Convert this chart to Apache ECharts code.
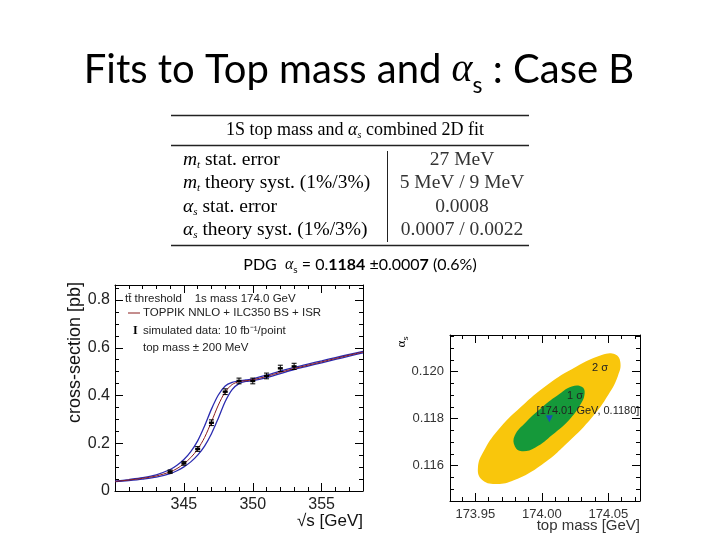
<!DOCTYPE html>
<html><head><meta charset="utf-8">
<script src="https://cdn.jsdelivr.net/npm/echarts@6/dist/echarts.min.js"></script>
<style>html,body{margin:0;padding:0;background:#fff}#c{width:720px;height:540px}</style>
</head><body><div id="c"></div>
<script>
// ---------- data: left plot (threshold scan) ----------
const curveX = [340, 341, 342, 343, 344, 344.5, 345, 345.5, 346, 346.5, 347, 347.5, 348, 348.5, 349, 349.5, 350, 351, 352, 353, 354, 355, 356, 357, 358];
const curveCentral = [0.040, 0.046, 0.053, 0.063, 0.080, 0.094, 0.114, 0.140, 0.175, 0.224, 0.290, 0.360, 0.415, 0.446, 0.458, 0.462, 0.466, 0.480, 0.497, 0.513, 0.527, 0.541, 0.555, 0.569, 0.582];
const curveMinus = [0.041, 0.048, 0.056, 0.068, 0.090, 0.108, 0.132, 0.165, 0.210, 0.272, 0.343, 0.402, 0.440, 0.455, 0.461, 0.465, 0.470, 0.485, 0.502, 0.518, 0.532, 0.545, 0.559, 0.572, 0.585];
const curvePlus = [0.039, 0.044, 0.050, 0.058, 0.073, 0.085, 0.101, 0.122, 0.150, 0.188, 0.240, 0.305, 0.375, 0.425, 0.450, 0.459, 0.462, 0.475, 0.492, 0.509, 0.523, 0.537, 0.551, 0.565, 0.579];
const dataX = [344, 345, 346, 347, 348, 349, 350, 351, 352, 353];
const dataY = [0.081, 0.116, 0.176, 0.286, 0.416, 0.461, 0.461, 0.482, 0.514, 0.522];
const dataErr = [0.007, 0.008, 0.010, 0.012, 0.012, 0.012, 0.012, 0.012, 0.013, 0.013];
const leftXLabels = [345, 350, 355];
const leftXMinor = [341, 342, 343, 344, 346, 347, 348, 349, 351, 352, 353, 354, 356, 357];
const leftYLabels = [0, 0.2, 0.4, 0.6, 0.8];
const leftYMinor = [0.05, 0.1, 0.15, 0.25, 0.3, 0.35, 0.45, 0.5, 0.55, 0.65, 0.7, 0.75, 0.85];

// ---------- data: right plot (2D fit contours) ----------
const sigma2X = [174.045, 174.055, 174.0590, 174.0572, 174.0500, 174.0378, 174.0205, 174.0000, 173.9790, 173.9650, 173.9548, 173.9520, 173.9562, 173.9668, 173.9842, 174.0045, 174.0255];
const sigma2Y = [0.12071, 0.12074, 0.12041, 0.11982, 0.11902, 0.11806, 0.11704, 0.11604, 0.11538, 0.11522, 0.11541, 0.11592, 0.11660, 0.11750, 0.11850, 0.11946, 0.12020];
const sigma1X = [174.0225, 174.030, 174.0322, 174.0290, 174.0205, 174.0080, 173.9952, 173.9850, 173.9798, 173.9796, 173.9882, 174.0005, 174.0132];
const sigma1Y = [0.11937, 0.11936, 0.11909, 0.11860, 0.11795, 0.11732, 0.11678, 0.11662, 0.11682, 0.11727, 0.11786, 0.11850, 0.11905];
const bestFit = [174.0057, 0.1180];
const rightXLabels = [173.95, 174.00, 174.05];
const rightXMinor = [173.94, 173.96, 173.97, 173.98, 173.99, 174.01, 174.02, 174.03, 174.04, 174.06, 174.07];
const rightYLabels = [0.116, 0.118, 0.120];
const rightYMinor = [0.115, 0.1155, 0.1165, 0.117, 0.1175, 0.1185, 0.119, 0.1195, 0.1205, 0.121, 0.1215];

const SANS = 'Liberation Sans, Arial, sans-serif';
const SERIF = 'Liberation Serif, Times New Roman, serif';
const CAL = 'Lato, Open Sans, sans-serif';

function axisSet(kind, grid, min, max, labels, minor, labelOpt, majorLen, minorLen, fmt) {
  const pos = kind === 'x' ? ['bottom', 'top'] : ['left', 'right'];
  const out = [];
  pos.forEach((p, pi) => {
    [true, false].forEach(major => {
      out.push({
        type: 'value', gridIndex: grid, position: p, min: min, max: max,
        axisLine: { show: major, onZero: false, lineStyle: { color: '#000', width: 1 } },
        axisTick: { show: true, inside: true, length: major ? majorLen : minorLen, customValues: major ? labels : minor, lineStyle: { color: '#000', width: 1 } },
        axisLabel: Object.assign({ show: major && pi === 0, customValues: labels, formatter: fmt }, labelOpt),
        splitLine: { show: false }
      });
    });
  });
  return out;
}

const xAxes = [].concat(
  axisSet('x', 0, 340, 358, leftXLabels, leftXMinor, { fontSize: 16, color: '#222', fontFamily: SANS, margin: 6 }, 8, 4, v => String(v)),
  axisSet('x', 1, 173.931, 174.0738, rightXLabels, rightXMinor, { fontSize: 13, color: '#333', fontFamily: SANS, margin: 7 }, 8, 4, v => v.toFixed(2))
);
const yAxes = [].concat(
  axisSet('y', 0, 0, 0.863, leftYLabels, leftYMinor, { fontSize: 16, color: '#222', fontFamily: SANS, margin: 5 }, 8, 4, v => v === 0 ? '0' : String(v)),
  axisSet('y', 1, 0.1145, 0.12156, rightYLabels, rightYMinor, { fontSize: 13, color: '#333', fontFamily: SANS, margin: 6 }, 8, 4, v => v.toFixed(3))
);

function lineSeries(ys, color, width) {
  return {
    type: 'line', xAxisIndex: 0, yAxisIndex: 0, data: curveX.map((x, i) => [x, ys[i]]),
    smooth: 0.3, showSymbol: false, symbol: 'none', silent: true,
    lineStyle: { color: color, width: width }, z: 3
  };
}

function polySeries(xs, ys, color, z) {
  return {
    type: 'custom', xAxisIndex: 4, yAxisIndex: 4, data: [[xs[0], ys[0]]], silent: true, z: z,
    renderItem: function (params, api) {
      const pts = xs.map((x, i) => api.coord([x, ys[i]]));
      return { type: 'polygon', shape: { points: pts, smooth: 0.45 }, style: { fill: color, stroke: null } };
    }
  };
}

const rowRich = {
  a: { fontFamily: SERIF, fontSize: 19.5, color: '#333', lineHeight: 22 },
  i: { fontFamily: SERIF, fontStyle: 'italic', fontSize: 19.5, color: '#333', lineHeight: 22 },
  b: { fontFamily: SERIF, fontStyle: 'italic', fontSize: 11, color: '#333', lineHeight: 11, verticalAlign: 'bottom' }
};

const option = {
  animation: false,
  grid: [
    { left: 115, top: 285, width: 248, height: 206 },
    { left: 450, top: 335, width: 190, height: 166 }
  ],
  xAxis: xAxes,
  yAxis: yAxes,
  series: [
    lineSeries(curveMinus, '#2b2bb0', 1.3),
    lineSeries(curvePlus, '#2b2bb0', 1.3),
    lineSeries(curveCentral, '#8a1c1c', 1),
    {
      type: 'custom', xAxisIndex: 0, yAxisIndex: 0, z: 5, silent: true,
      data: dataX.map((x, i) => [x, dataY[i], dataErr[i]]),
      renderItem: function (params, api) {
        const x = api.value(0), y = api.value(1), e = api.value(2);
        const lo = api.coord([x, y - e]), hi = api.coord([x, y + e]), c = api.coord([x, y]);
        const s = { stroke: '#000', lineWidth: 1 };
        return { type: 'group', children: [
          { type: 'line', shape: { x1: lo[0], y1: lo[1], x2: hi[0], y2: hi[1] }, style: s },
          { type: 'line', shape: { x1: lo[0] - 2.5, y1: lo[1], x2: lo[0] + 2.5, y2: lo[1] }, style: s },
          { type: 'line', shape: { x1: hi[0] - 2.5, y1: hi[1], x2: hi[0] + 2.5, y2: hi[1] }, style: s },
          { type: 'rect', shape: { x: c[0] - 2.5, y: c[1] - 1.2, width: 5, height: 2.4 }, style: { fill: '#000' } }
        ] };
      }
    },
    polySeries(sigma2X, sigma2Y, '#f9c60c', 2),
    polySeries(sigma1X, sigma1Y, '#15993a', 3),
    {
      type: 'scatter', xAxisIndex: 4, yAxisIndex: 4, data: [bestFit], symbol: 'triangle', symbolRotate: 180,
      symbolSize: 7, itemStyle: { color: '#1a3fd0' }, z: 6, silent: true
    }
  ],
  graphic: [
    // Title
    { type: 'text', x: 359, y: 70, style: {
      text: '{a|Fits to Top mass and }{g|α}{s|s}{a| : Case B}', align: 'center', verticalAlign: 'middle',
      rich: {
        a: { fontFamily: CAL, fontSize: 40, color: '#000', lineHeight: 54 },
        g: { fontFamily: SERIF, fontStyle: 'italic', fontSize: 40, color: '#000', lineHeight: 54 },
        s: { fontFamily: CAL, fontSize: 23, color: '#000', lineHeight: 23, verticalAlign: 'bottom' }
      } } },
    // Table lines
    { type: 'line', shape: { x1: 171, y1: 115.5, x2: 529, y2: 115.5 }, style: { stroke: '#222', lineWidth: 1.3 } },
    { type: 'line', shape: { x1: 171, y1: 145.5, x2: 529, y2: 145.5 }, style: { stroke: '#222', lineWidth: 1.3 } },
    { type: 'line', shape: { x1: 171, y1: 245.5, x2: 529, y2: 245.5 }, style: { stroke: '#222', lineWidth: 1.3 } },
    { type: 'line', shape: { x1: 387.5, y1: 151, x2: 387.5, y2: 242 }, style: { stroke: '#222', lineWidth: 1 } },
    { type: 'text', x: 355, y: 130, style: { text: '{a|1S top mass and }{i|α}{b|s}{a| combined 2D fit}', align: 'center', verticalAlign: 'middle',
      rich: { a: { fontFamily: SERIF, fontSize: 18, color: '#333', lineHeight: 20 }, i: { fontFamily: SERIF, fontStyle: 'italic', fontSize: 18, color: '#333', lineHeight: 20 }, b: { fontFamily: SERIF, fontStyle: 'italic', fontSize: 10, color: '#333', lineHeight: 10, verticalAlign: 'bottom' } } } },
    ...[
      ['m', 't', ' stat. error', '27 MeV', 160],
      ['m', 't', ' theory syst. (1%/3%)', '5 MeV / 9 MeV', 183],
      ['α', 's', ' stat. error', '0.0008', 207],
      ['α', 's', ' theory syst. (1%/3%)', '0.0007 / 0.0022', 230]
    ].flatMap(r => [
      { type: 'text', x: 183, y: r[4], style: { text: '{i|' + r[0] + '}{b|' + r[1] + '}{a|' + r[2] + '}', align: 'left', verticalAlign: 'middle', rich: rowRich } },
      { type: 'text', x: 462, y: r[4], style: { text: r[3], align: 'center', verticalAlign: 'middle', fontFamily: SERIF, fontSize: 19.5, fill: '#333' } }
    ]),
    // PDG line
    { type: 'text', x: 360, y: 265, style: { text: '{a|PDG  }{g|α}{s|s}{a| = 0.}{b|1184}{a| ±0.000}{b|7}{a| (0.6%)}', align: 'center', verticalAlign: 'middle',
      rich: { a: { fontFamily: CAL, fontSize: 16, color: '#000', lineHeight: 20 }, b: { fontFamily: CAL, fontWeight: 'bold', fontSize: 16, color: '#000', lineHeight: 20 },
        g: { fontFamily: SERIF, fontStyle: 'italic', fontSize: 16, color: '#000', lineHeight: 20 }, s: { fontFamily: CAL, fontSize: 10, color: '#000', lineHeight: 10, verticalAlign: 'bottom' } } } },
    // left plot axis titles
    { type: 'text', x: 75, y: 282, rotation: Math.PI / 2, style: { text: 'cross-section [pb]', align: 'right', verticalAlign: 'middle', fontFamily: SANS, fontSize: 18, fill: '#111' } },
    { type: 'text', x: 363, y: 521, style: { text: '√s [GeV]', align: 'right', verticalAlign: 'middle', fontFamily: SANS, fontSize: 17, fill: '#111' } },
    // left plot legend
    { type: 'text', x: 125, y: 299, style: { text: 'tt̄ threshold    1s mass 174.0 GeV', align: 'left', verticalAlign: 'middle', fontFamily: SANS, fontSize: 11.5, fill: '#222' } },
    { type: 'line', shape: { x1: 128, y1: 313, x2: 140, y2: 313 }, style: { stroke: '#8a1c1c', lineWidth: 1 } },
    { type: 'text', x: 143, y: 313, style: { text: 'TOPPIK NNLO + ILC350 BS + ISR', align: 'left', verticalAlign: 'middle', fontFamily: SANS, fontSize: 11.5, fill: '#222' } },
    { type: 'text', x: 133, y: 331, style: { text: 'I', align: 'left', verticalAlign: 'middle', fontFamily: SERIF, fontWeight: 'bold', fontSize: 12, fill: '#000' } },
    { type: 'text', x: 143, y: 331, style: { text: 'simulated data: 10 fb⁻¹/point', align: 'left', verticalAlign: 'middle', fontFamily: SANS, fontSize: 11.5, fill: '#222' } },
    { type: 'text', x: 143, y: 348, style: { text: 'top mass ± 200 MeV', align: 'left', verticalAlign: 'middle', fontFamily: SANS, fontSize: 11.5, fill: '#222' } },
    // right plot texts
    { type: 'text', x: 402, y: 342, rotation: Math.PI / 2, style: { text: '{g|α}{s|s}', align: 'center', verticalAlign: 'middle',
      rich: { g: { fontFamily: SERIF, fontSize: 13, color: '#333', lineHeight: 16 }, s: { fontFamily: SANS, fontSize: 8, color: '#333', lineHeight: 8, verticalAlign: 'bottom' } } } },
    { type: 'text', x: 640, y: 526, style: { text: 'top mass [GeV]', align: 'right', verticalAlign: 'middle', fontFamily: SANS, fontSize: 15, fill: '#333' } },
    { type: 'text', x: 600, y: 368, z: 10, style: { text: '2 σ', align: 'center', verticalAlign: 'middle', fontFamily: SANS, fontSize: 11, fill: '#222' } },
    { type: 'text', x: 575, y: 396, z: 10, style: { text: '1 σ', align: 'center', verticalAlign: 'middle', fontFamily: SANS, fontSize: 11, fill: '#222' } },
    { type: 'text', x: 588, y: 411, z: 10, style: { text: '[174.01 GeV, 0.1180]', align: 'center', verticalAlign: 'middle', fontFamily: SANS, fontSize: 11, fill: '#222' } }
  ]
};
const chart = echarts.init(document.getElementById('c'), null, { renderer: 'canvas' });
chart.setOption(option);
</script></body></html>
